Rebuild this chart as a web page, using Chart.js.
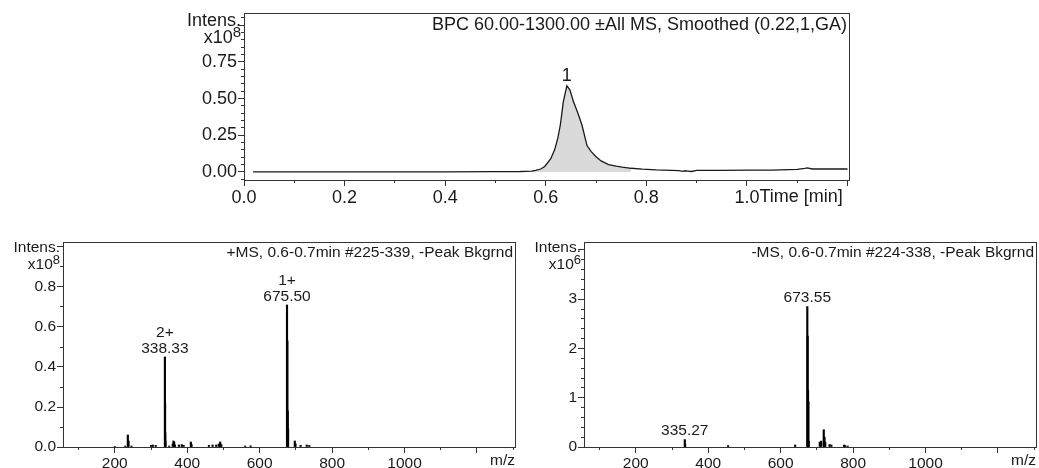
<!DOCTYPE html>
<html>
<head>
<meta charset="utf-8">
<script src="https://cdn.jsdelivr.net/npm/chart.js@4.4.1/dist/chart.umd.min.js"></script>
<style>
  body { margin: 0; background: #fff; }
  #wrap { position: relative; width: 1039px; height: 468px; overflow: hidden; }
  .box { position: absolute; }
</style>
</head>
<body>
<div id="wrap">
  <div class="box" style="left:150px;top:0;width:720px;height:210px"><canvas id="bpc"></canvas></div>
  <div class="box" style="left:0;top:225px;width:530px;height:243px"><canvas id="posms"></canvas></div>
  <div class="box" style="left:520px;top:225px;width:519px;height:243px"><canvas id="negms"></canvas></div>
</div>
<script>
// base peak chromatogram, time in min, intensity in x10^8
const bpcTime = [0.018, 0.1, 0.2, 0.3, 0.4, 0.5, 0.55, 0.572, 0.58, 0.59, 0.598, 0.61, 0.618, 0.624, 0.629, 0.635, 0.642, 0.648, 0.655, 0.664, 0.672, 0.682, 0.69, 0.699, 0.71, 0.725, 0.74, 0.752, 0.77, 0.792, 0.82, 0.85, 0.865, 0.872, 0.877, 0.882, 0.89, 0.9, 0.95, 1.0, 1.05, 1.1, 1.115, 1.12, 1.13, 1.16, 1.2];
const bpcInt = [0.001, 0.001, 0.001, 0.001, 0.001, 0.002, 0.003, 0.006, 0.01, 0.02, 0.037, 0.09, 0.154, 0.23, 0.32, 0.48, 0.587, 0.56, 0.48, 0.4, 0.32, 0.18, 0.14, 0.107, 0.075, 0.05, 0.04, 0.033, 0.025, 0.019, 0.014, 0.011, 0.009, 0.004, 0.008, 0.006, 0.003, 0.01, 0.011, 0.012, 0.013, 0.017, 0.024, 0.027, 0.02, 0.02, 0.02];
const bpcWindow = [0.572, 0.77];
const bpcPeaks = [{ x: 0.642, y: 0.587, text: ['1'] }];

// +MS spectrum, m/z and intensity in x10^8
const posMz = [200, 229, 236, 238, 246, 300, 305, 313, 338.33, 338.83, 339.33, 339.83, 350, 360, 362, 364, 366, 377, 385, 390, 410, 412, 460, 470, 480, 487, 491, 494, 560, 575, 675.5, 676.5, 677.5, 678.5, 697, 699, 713, 730, 737];
const posInt = [0.003, 0.005, 0.06, 0.03, 0.005, 0.008, 0.01, 0.008, 0.45, 0.22, 0.07, 0.03, 0.005, 0.015, 0.03, 0.025, 0.01, 0.01, 0.012, 0.008, 0.025, 0.012, 0.008, 0.01, 0.01, 0.015, 0.025, 0.012, 0.005, 0.006, 0.71, 0.53, 0.18, 0.09, 0.03, 0.015, 0.008, 0.01, 0.008];
const posPeaks = [{ x: 338.33, y: 0.45, text: ['2+', '338.33'] }, { x: 675.5, y: 0.71, text: ['1+', '675.50'] }];

// -MS spectrum, m/z and intensity in x10^6
const negMz = [335.27, 336.3, 455, 640, 673.55, 674.55, 675.55, 676.55, 677.55, 708, 712, 719, 721, 723, 735, 740, 775, 778, 785];
const negInt = [0.15, 0.05, 0.03, 0.04, 2.85, 2.25, 1.15, 0.92, 0.12, 0.1, 0.12, 0.35, 0.2, 0.1, 0.05, 0.04, 0.04, 0.03, 0.02];
const negPeaks = [{ x: 335.27, y: 0.15, text: ['335.27'] }, { x: 673.55, y: 2.85, text: ['673.55'] }];

const mzLabels = [200, 400, 600, 800, 1000];
const timeLabels = [0, 0.2, 0.4, 0.6, 0.8, 1.0];

Chart.defaults.font.family = "'Liberation Sans', Arial, sans-serif";
Chart.defaults.color = '#1a1a1a';
Chart.defaults.animation = false;

const isMult = (v, step) => Math.abs(v / step - Math.round(v / step)) < 1e-6;
const fnt = s => s + 'px "Liberation Sans", Arial, sans-serif';

// frame, y-axis caption, title, peak labels and the x unit label
const decor = {
  id: 'decor',
  afterDraw(chart, args, o) {
    const { ctx, chartArea: a, scales } = chart;
    ctx.save();
    ctx.strokeStyle = '#333';
    ctx.lineWidth = 1;
    ctx.strokeRect(Math.round(a.left) + 0.5, Math.round(a.top) + 0.5, Math.round(a.right - a.left), Math.round(a.bottom - a.top));

    ctx.fillStyle = '#1a1a1a';
    ctx.font = fnt(o.font);
    ctx.textAlign = 'right';
    ctx.textBaseline = 'middle';
    ctx.fillText('Intens.', a.left - 3, a.top + o.capY1);
    ctx.font = fnt(Math.round(o.font * 0.85));
    const sup = ctx.measureText(o.exp).width;
    ctx.fillText(o.exp, a.left - 3, a.top + o.capY2 - o.font * 0.3);
    ctx.font = fnt(o.font);
    ctx.fillText('x10', a.left - 3 - sup, a.top + o.capY2);

    // title, top right inside the frame
    ctx.font = fnt(o.titleFont);
    ctx.textBaseline = 'top';
    ctx.fillText(o.title, a.right - 2, a.top + 3);

    // x unit: right after the last tick label, or flush right
    ctx.font = fnt(o.font);
    if (o.unitAfter !== undefined) {
      const lbl = o.unitAfter.toFixed(1);
      ctx.textAlign = 'left';
      ctx.fillText(o.unit, scales.x.getPixelForValue(o.unitAfter) + ctx.measureText(lbl).width / 2, a.bottom + o.unitY);
    } else {
      ctx.fillText(o.unit, a.right, a.bottom + o.unitY);
    }

    // peak labels
    ctx.textAlign = 'center';
    ctx.textBaseline = 'bottom';
    ctx.font = fnt(o.peakFont);
    o.peaks.forEach(p => {
      const px = scales.x.getPixelForValue(p.x);
      let py = scales.y.getPixelForValue(p.y) - 1;
      for (let i = p.text.length - 1; i >= 0; i--) {
        ctx.fillText(p.text[i], px, py);
        py -= o.peakFont;
      }
    });
    ctx.restore();
  }
};

function axisX(min, max, major, minor, labels, fmt, height, font) {
  return {
    type: 'linear', min, max, offset: false,
    afterFit: s => { s.height = height; },
    grid: {
      drawOnChartArea: false, offset: false, tickLength: 6, color: '#333', tickColor: '#333',
      tickBorderDash: c => isMult(c.tick.value, major) ? [] : [3, 100]
    },
    border: { display: false },
    ticks: {
      stepSize: minor, includeBounds: false, autoSkip: false, maxRotation: 0, padding: 1,
      font: { size: font },
      callback: v => labels.some(l => Math.abs(l - v) < 1e-6) ? fmt(v) : ''
    }
  };
}

function axisY(min, max, major, minor, fmt, width, font, lastLabel) {
  return {
    type: 'linear', min, max,
    afterFit: s => { s.width = width; },
    grid: {
      drawOnChartArea: false, tickLength: 6, color: '#333', tickColor: '#333',
      tickBorderDash: c => isMult(c.tick.value, major) ? [] : [0, 3, 3, 100]
    },
    border: { display: false },
    ticks: {
      stepSize: minor, includeBounds: false, autoSkip: false, padding: 1,
      font: { size: font },
      callback: v => isMult(v, major) && v >= -1e-6 && v <= lastLabel + 1e-6 ? fmt(v) : ''
    }
  };
}

// chromatogram
const bpcPts = bpcTime.map((t, i) => ({ x: t, y: bpcInt[i] }));
new Chart(document.getElementById('bpc'), {
  type: 'line',
  data: {
    datasets: [
      { data: bpcPts, borderColor: '#1a1a1a', borderWidth: 1.3, pointRadius: 0, fill: false, tension: 0 },
      { data: bpcPts.filter(p => p.x >= bpcWindow[0] && p.x <= bpcWindow[1]), borderWidth: 0, pointRadius: 0, fill: 'origin', backgroundColor: '#dadada', tension: 0 }
    ]
  },
  options: {
    responsive: true, maintainAspectRatio: false,
    layout: { padding: { top: 13, right: 21, left: 0, bottom: 0 } },
    plugins: {
      legend: { display: false }, tooltip: { enabled: false },
      decor: { font: 18, titleFont: 18, peakFont: 18, exp: '8', capY1: 8, capY2: 25, unitY: 8, unit: 'Time [min]', unitAfter: 1.0,
        title: 'BPC 60.00-1300.00 \u00b1All MS, Smoothed (0.22,1,GA)', peaks: bpcPeaks }
    },
    scales: {
      x: axisX(0, 1.203, 0.2, 0.1, timeLabels, v => v.toFixed(1), 30, 18),
      y: axisY(-0.055, 1.084, 0.25, 0.05, v => v.toFixed(2), 94, 18, 0.75)
    }
  },
  plugins: [decor]
});

function spectrum(id, mz, inten, peaks, ymax, major, minor, lastLabel, fmt, yWidth, rightPad, topPad, exp, title) {
  new Chart(document.getElementById(id), {
    type: 'bar',
    data: {
      datasets: [{ data: mz.map((m, i) => ({ x: m, y: inten[i] })), backgroundColor: '#000', barThickness: 1.5, grouped: false }]
    },
    options: {
      responsive: true, maintainAspectRatio: false,
      layout: { padding: { top: topPad, right: rightPad, left: 0, bottom: 0 } },
      plugins: {
        legend: { display: false }, tooltip: { enabled: false },
        decor: { font: 15.5, titleFont: 15.5, peakFont: 15.5, exp, capY1: 6, capY2: 23, unitY: 6, unit: 'm/z', title, peaks }
      },
      scales: {
        x: axisX(57, 1305, 200, 100, mzLabels, v => String(v), 21, 15.5),
        y: axisY(0, ymax, major, minor, fmt, yWidth, 15.5, lastLabel)
      }
    },
    plugins: [decor]
  });
}

spectrum('posms', posMz, posInt, posPeaks, 1.025, 0.2, 0.1, 0.8, v => v.toFixed(1), 63, 15, 17, '8', '+MS, 0.6-0.7min #225-339, -Peak Bkgrnd');
spectrum('negms', negMz, negInt, negPeaks, 4.16, 1, 0.2, 3, v => String(v), 64, 3, 17, '6', '-MS, 0.6-0.7min #224-338, -Peak Bkgrnd');
</script>
</body>
</html>
